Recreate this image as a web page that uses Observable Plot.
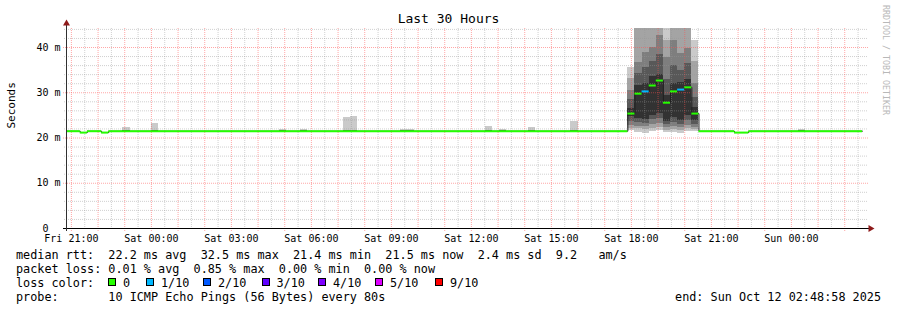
<!DOCTYPE html>
<html><head><meta charset="utf-8">
<script src="https://cdn.jsdelivr.net/npm/d3@7"></script>
<script src="https://cdn.jsdelivr.net/npm/@observablehq/plot@0.6"></script>
<style>
html,body{margin:0;padding:0;background:#fff;}
#wrap{position:relative;width:897px;height:310px;overflow:hidden;font-family:"DejaVu Sans Mono",monospace;color:#000;background:#fff;}
#wrap svg{position:absolute;left:0;top:0;}
.t{position:absolute;white-space:pre;}
.row{font-size:11.8px;line-height:14px;left:16px;}
.box{position:absolute;width:6px;height:6px;border:1px solid #000;}
</style></head><body><div id="wrap"></div><script>
// ---------- data ----------
const titleText = "Last 30 Hours";
const yAxisLabel = "Seconds";
const rangeStart = "2025-10-10T20:48:58Z";
const rangeEnd = "2025-10-12T02:48:58Z";
const stepMinutes = 16; // RRA step: 12 x 80 s

// median rtt, one value per segment (segment i runs from medianTimes[i] to medianTimes[i+1])
const medianTimes = [
  "2025-10-10T20:48Z", "2025-10-10T21:20Z", "2025-10-10T21:36Z", "2025-10-10T22:08Z", "2025-10-10T22:24Z",
  "2025-10-11T17:52Z", "2025-10-11T18:08Z", "2025-10-11T18:24Z", "2025-10-11T18:40Z", "2025-10-11T18:56Z",
  "2025-10-11T19:12Z", "2025-10-11T19:28Z", "2025-10-11T19:44Z", "2025-10-11T20:00Z", "2025-10-11T20:16Z",
  "2025-10-11T20:32Z", "2025-10-11T21:52Z", "2025-10-11T22:24Z"
];
const medianEnd = "2025-10-12T02:40Z";
const medianMs = [21.5, 21.2, 21.5, 21.2, 21.5,
  25.4, 29.8, 30.3, 31.6, 32.7, 27.8, 30.3, 30.7, 31.2, 25.4,
  21.5, 21.2, 21.5];
const medianLoss = [0, 0, 0, 0, 0,
  0, 0, 1, 0, 0, 0, 0, 1, 0, 0,
  0, 0, 0];

// smoke: 10 sorted pings (ms) per step, only steps where the smoke shows
const smokeTimes = [
  "2025-10-10T22:56Z", "2025-10-11T00:00Z", "2025-10-11T04:48Z", "2025-10-11T05:36Z",
  "2025-10-11T07:12Z", "2025-10-11T07:28Z", "2025-10-11T09:20Z", "2025-10-11T09:36Z",
  "2025-10-11T12:32Z", "2025-10-11T13:04Z", "2025-10-11T14:08Z", "2025-10-11T15:44Z",
  "2025-10-11T17:52Z", "2025-10-11T18:08Z", "2025-10-11T18:24Z", "2025-10-11T18:40Z",
  "2025-10-11T18:56Z", "2025-10-11T19:12Z", "2025-10-11T19:28Z", "2025-10-11T19:44Z",
  "2025-10-11T20:00Z", "2025-10-11T20:16Z", "2025-10-12T00:16Z"
];
const smokePings = [
  [21.3, 21.4, 21.4, 21.5, 21.5, 21.5, 21.6, 21.6, 21.7, 22.3],
  [21.3, 21.4, 21.4, 21.5, 21.5, 21.5, 21.6, 21.6, 21.7, 23.3],
  [21.3, 21.4, 21.4, 21.5, 21.5, 21.5, 21.6, 21.6, 21.7, 21.9],
  [21.3, 21.4, 21.4, 21.5, 21.5, 21.5, 21.6, 21.6, 21.7, 21.8],
  [21.3, 21.4, 21.4, 21.5, 21.5, 21.5, 21.6, 21.6, 21.7, 24.6],
  [21.3, 21.4, 21.4, 21.5, 21.5, 21.5, 21.6, 21.6, 21.7, 24.8],
  [21.3, 21.4, 21.4, 21.5, 21.5, 21.5, 21.6, 21.6, 21.7, 21.9],
  [21.3, 21.4, 21.4, 21.5, 21.5, 21.5, 21.6, 21.6, 21.7, 21.9],
  [21.3, 21.4, 21.4, 21.5, 21.5, 21.5, 21.6, 21.6, 21.7, 22.5],
  [21.3, 21.4, 21.4, 21.5, 21.5, 21.5, 21.6, 21.6, 21.7, 21.9],
  [21.3, 21.4, 21.4, 21.5, 21.5, 21.5, 21.6, 21.6, 21.7, 22.4],
  [21.3, 21.4, 21.4, 21.5, 21.5, 21.5, 21.6, 21.6, 21.7, 23.6],
  [21.6, 22.2, 22.8, 23.6, 24.8, 26.5, 28.5, 30.5, 33.1, 35.6],
  [21.3, 22.0, 22.6, 23.4, 24.4, 31.5, 34.2, 36.7, 48.0, 62.0],
  [21.1, 21.8, 22.5, 23.2, 24.0, 32.0, 35.5, 39.0, 47.0, 60.0],
  [21.4, 22.1, 23.0, 24.0, 25.0, 33.5, 37.0, 40.0, 49.0, 62.0],
  [21.6, 22.3, 23.2, 24.3, 25.5, 34.0, 38.5, 42.6, 50.0, 64.0],
  [21.2, 21.7, 22.3, 23.0, 23.6, 29.5, 33.0, 37.8, 41.5, 58.0],
  [21.3, 21.9, 22.6, 23.5, 24.5, 32.0, 36.0, 41.5, 48.0, 60.0],
  [21.1, 21.6, 22.3, 23.0, 23.8, 32.3, 35.0, 38.7, 46.0, 60.0],
  [21.4, 22.0, 22.8, 23.8, 25.0, 33.0, 36.5, 39.8, 47.0, 61.0],
  [21.5, 21.9, 22.4, 23.0, 23.8, 26.8, 29.0, 32.0, 37.0, 41.5],
  [21.3, 21.4, 21.4, 21.5, 21.5, 21.5, 21.6, 21.6, 21.7, 21.8]
];

const yMaxMs = 44.2;
const yTickValues = [0, 10, 20, 30, 40];
const yTickLabels = ["0\u00a0\u00a0", "10 m", "20 m", "30 m", "40 m"];
const smokeShades = ["#cacaca", "#a4a4a4", "#7e7e7e", "#585858", "#323232"];
const lossLevels = ["0", "1/10", "2/10", "3/10", "4/10", "5/10", "9/10"];
const lossColors = ["#26ff00", "#00b8ff", "#0059ff", "#5e00ff", "#7e00ff", "#dd00ff", "#ff0000"];

const legendRtt = "median rtt:  22.2 ms avg  32.5 ms max  21.4 ms min  21.5 ms now  2.4 ms sd  9.2   am/s";
const legendLoss = "packet loss: 0.01 % avg  0.85 % max  0.00 % min  0.00 % now";
const legendProbe = "probe:       10 ICMP Echo Pings (56 Bytes) every 80s";
const legendEnd = "end: Sun Oct 12 02:48:58 2025";
const watermark = "RRDTOOL / TOBI OETIKER";

// ---------- build ----------
const start = new Date(rangeStart), end = new Date(rangeEnd);
const STEP = stepMinutes * 60000;

const segments = medianTimes.map((t, i) => ({
  from: new Date(t),
  to: new Date(i + 1 < medianTimes.length ? medianTimes[i + 1] : medianEnd),
  ms: medianMs[i], loss: medianLoss[i]
}));
const linePts = segments.map(s => ({t: s.from, ms: s.ms}));
linePts.push({t: segments[segments.length - 1].to, ms: segments[segments.length - 1].ms});

const bands = [];
smokeTimes.forEach((t, k) => {
  const p = smokePings[k];
  for (let i = 0; i < 5; i++) {
    bands.push({x1: new Date(t), x2: new Date(+new Date(t) + STEP), y1: p[i], y2: p[9 - i], shade: i});
  }
});

const halfHours = d3.utcMinute.every(30).range(start, end);
const hourLines = halfHours.filter(d => d.getUTCMinutes() === 0);
const halfLines = halfHours.filter(d => d.getUTCMinutes() !== 0);
const yMinor = d3.range(2, yMaxMs, 2).filter(v => v % 10 !== 0);
const yMajor = d3.range(10, yMaxMs, 10);
const xTicks = d3.utcHour.every(3).range(start, end);

const arrowUp = {draw(c) { c.moveTo(0, -4); c.lineTo(3.5, 2); c.lineTo(-3.5, 2); c.closePath(); }};
const arrowRight = {draw(c) { c.moveTo(4, 0); c.lineTo(-2, -3.5); c.lineTo(-2, 3.5); c.closePath(); }};

const gridMinor = "rgba(150,150,150,0.45)";
const gridMajor = "rgba(255,80,80,0.5)";

const chart = Plot.plot({
  width: 897, height: 248,
  marginLeft: 66, marginRight: 31, marginTop: 28, marginBottom: 20,
  style: {fontFamily: "'DejaVu Sans Mono', monospace", fontSize: "10px", background: "transparent", color: "#000", overflow: "visible"},
  x: {type: "utc", domain: [start, end], ticks: xTicks, tickFormat: d3.utcFormat("%a %H:%M"), tickSize: 0, tickPadding: 6, label: null},
  y: {domain: [0, yMaxMs], ticks: yTickValues, tickFormat: (d, i) => yTickLabels[yTickValues.indexOf(d)], tickSize: 0, tickPadding: 6, label: null},
  marks: [
    ...smokeShades.map((c, i) => Plot.rect(bands.filter(b => b.shade === i), {x1: "x1", x2: "x2", y1: "y1", y2: "y2", fill: c, clip: true, shapeRendering: "crispEdges"})),
    Plot.ruleX(halfLines, {stroke: gridMinor, strokeDasharray: "1,1", insetBottom: -2}),
    Plot.ruleY(yMinor, {stroke: gridMinor, strokeDasharray: "1,1", insetLeft: -2, insetRight: -2}),
    Plot.ruleX(hourLines, {stroke: gridMajor, strokeDasharray: "1,1", insetBottom: -3}),
    Plot.ruleY(yMajor, {stroke: gridMajor, strokeDasharray: "1,1", insetLeft: -3, insetRight: -2}),
    Plot.line(linePts, {x: "t", y: "ms", curve: "step-after", stroke: "#202020", strokeWidth: 1, clip: true}),
    ...lossColors.map((c, k) => Plot.ruleY(segments.filter(s => s.loss === k), {y: "ms", x1: "from", x2: "to", stroke: c, strokeWidth: 2, clip: true})),
    Plot.ruleY([0], {stroke: "#000", insetLeft: -3, insetRight: -3}),
    Plot.ruleX([start], {stroke: "#303030", insetTop: -4, insetBottom: -3}),
    Plot.dot([{x: start, y: yMaxMs}], {x: "x", y: "y", symbol: arrowUp, fill: "#8e1a1a", stroke: null, dy: -5}),
    Plot.dot([{x: end, y: 0}], {x: "x", y: "y", symbol: arrowRight, fill: "#8e1a1a", stroke: null, dx: 4}),
    Plot.text([yAxisLabel], {frameAnchor: "left", rotate: -90, dx: -55, fontSize: 11, fill: "#000"})
  ]
});

const wrap = document.getElementById("wrap");
wrap.appendChild(chart);

function addDiv(text, css, cls) {
  const d = document.createElement("div");
  d.className = "t " + (cls || "");
  d.textContent = text;
  Object.assign(d.style, css);
  wrap.appendChild(d);
  return d;
}
addDiv(titleText, {left: "0px", width: "897px", textAlign: "center", top: "11px", fontSize: "13px", lineHeight: "15px"});
addDiv(watermark, {left: "891px", top: "5px", fontSize: "8.3px", lineHeight: "10px", color: "#b8b8b8", transform: "rotate(90deg)", transformOrigin: "0 0"});
addDiv(legendRtt, {top: "247.5px"}, "row");
addDiv(legendLoss, {top: "261.5px"}, "row");
addDiv("loss color:", {top: "275.5px"}, "row");
addDiv(legendProbe, {top: "289.5px"}, "row");
addDiv(legendEnd, {top: "289.5px", right: "16px", left: "auto"}, "row");
const boxX = [108, 146, 203, 261.5, 318, 375, 435];
lossLevels.forEach((lab, i) => {
  const b = document.createElement("div");
  b.className = "box";
  b.style.left = boxX[i] + "px";
  b.style.top = "278px";
  b.style.background = lossColors[i];
  wrap.appendChild(b);
  addDiv(lab, {left: (boxX[i] + 15) + "px", top: "275.5px"}, "row");
});
</script></body></html>
